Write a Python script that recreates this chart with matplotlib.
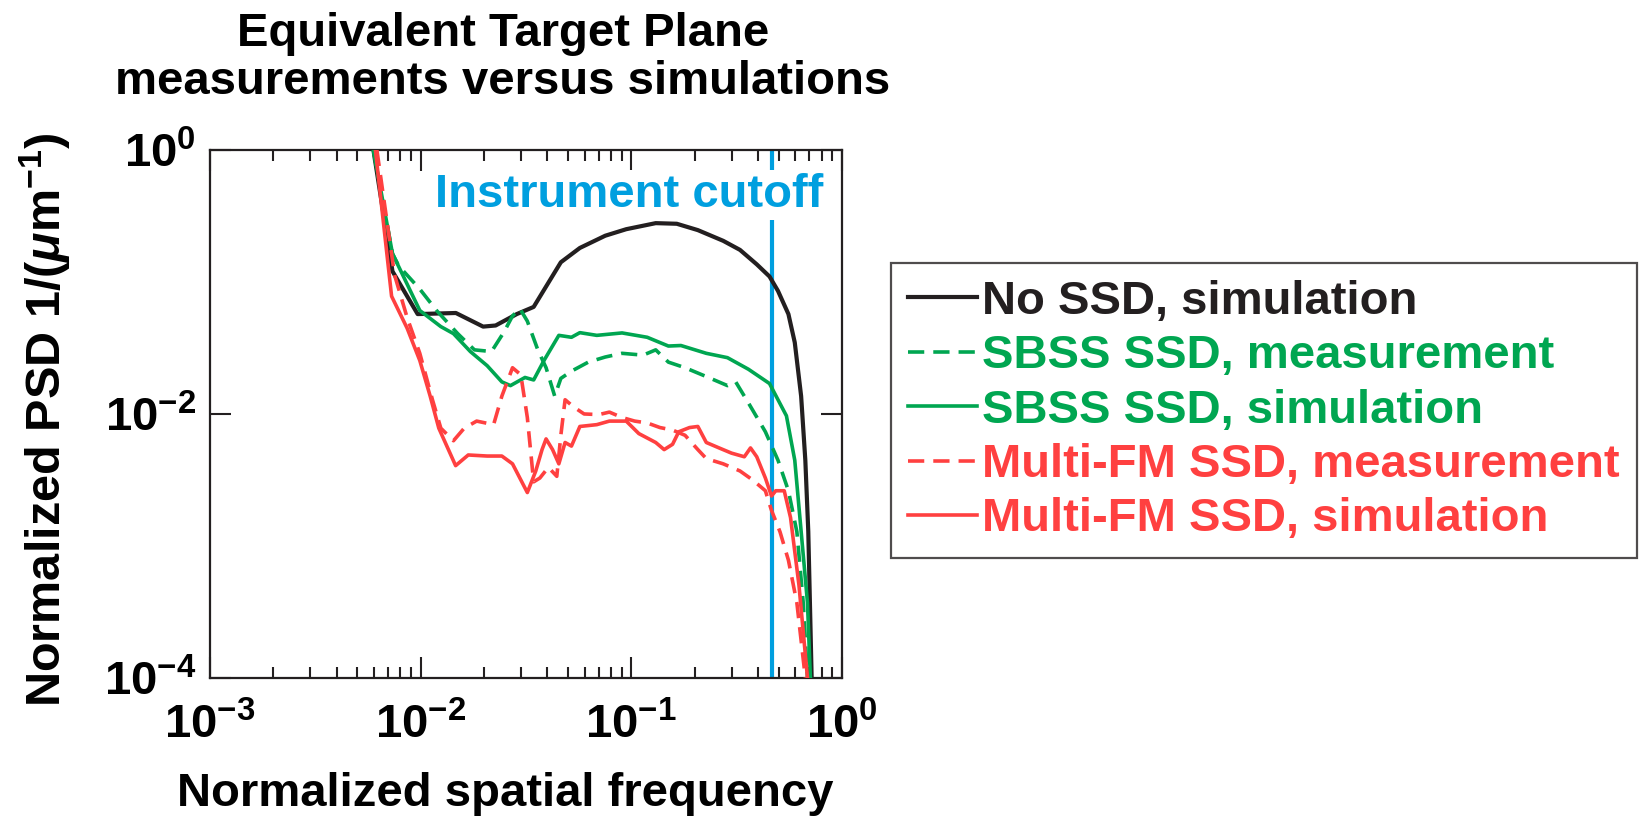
import numpy as np
import matplotlib
matplotlib.use("Agg")
import matplotlib.pyplot as plt
from matplotlib.ticker import NullLocator, LogLocator

plt.rcParams["font.family"] = ["Liberation Sans", "DejaVu Sans"]
plt.rcParams["font.weight"] = "bold"
plt.rcParams["mathtext.fontset"] = "custom"
plt.rcParams["mathtext.rm"] = "Liberation Sans:bold"
plt.rcParams["mathtext.bf"] = "Liberation Sans:bold"
plt.rcParams["mathtext.it"] = "Liberation Sans:bold:italic"

# values
nossd_sim_x = [0.00597, 0.00735, 0.00968, 0.0147, 0.0198, 0.0227, 0.0286, 0.0344, 0.0463, 0.057,
               0.0752, 0.0946, 0.1306, 0.1644, 0.207, 0.273, 0.328, 0.394, 0.453, 0.497, 0.557,
               0.597, 0.640, 0.670, 0.692, 0.718]
nossd_sim_y = [1.0, 0.1205, 0.0571, 0.0582, 0.0459, 0.0468, 0.0571, 0.0647, 0.141, 0.181,
               0.224, 0.251, 0.279, 0.276, 0.247, 0.205, 0.175, 0.136, 0.110, 0.0855, 0.0571,
               0.0348, 0.01365, 0.00447, 0.00129, 0.0001]

sbss_meas_x = [0.00597, 0.00735, 0.00787, 0.00991, 0.0119, 0.0150, 0.0180, 0.0217, 0.0249, 0.0273,
               0.0296, 0.0321, 0.0360, 0.0394, 0.0433, 0.0463, 0.0520, 0.0625, 0.0752, 0.0904,
               0.1138, 0.1306, 0.150, 0.180, 0.227, 0.286, 0.313, 0.360, 0.433, 0.497, 0.557,
               0.611, 0.655, 0.686]
sbss_meas_y = [1.0, 0.164, 0.1324, 0.0883, 0.0608, 0.0406, 0.0306, 0.0297, 0.0419, 0.0553,
               0.0627, 0.0505, 0.0306, 0.0224, 0.01365, 0.0186, 0.0211, 0.0247, 0.0270, 0.0288,
               0.0279, 0.0306, 0.0247, 0.0224, 0.0192, 0.0164, 0.0175, 0.0121, 0.00733, 0.00446,
               0.00262, 0.00128, 0.00037, 0.0001]

sbss_sim_x = [0.00597, 0.00735, 0.00991, 0.01247, 0.01432, 0.01722, 0.0207, 0.0243, 0.0267, 0.0313,
              0.0344, 0.0385, 0.0453, 0.0520, 0.0570, 0.0686, 0.0904, 0.119, 0.150, 0.172, 0.227,
              0.286, 0.360, 0.453, 0.545, 0.597, 0.640, 0.686, 0.708]
sbss_sim_y = [1.0, 0.164, 0.0608, 0.0459, 0.0406, 0.0297, 0.0232, 0.0175, 0.0164, 0.0189,
              0.0181, 0.0254, 0.0394, 0.0381, 0.0413, 0.0394, 0.0411, 0.0381, 0.0327, 0.0330,
              0.0288, 0.0267, 0.0218, 0.0170, 0.00968, 0.00446, 0.00129, 0.000372, 0.0001]

mfm_meas_x = [0.0062, 0.00752, 0.00863, 0.00991, 0.01138, 0.01247, 0.01432, 0.0161, 0.01845, 0.0222,
              0.0243, 0.0273, 0.0299, 0.0321, 0.0344, 0.0368, 0.0404, 0.0443, 0.0463, 0.0485,
              0.0532, 0.0597, 0.0702, 0.0787, 0.0904, 0.1038, 0.119, 0.1368, 0.157, 0.180, 0.207,
              0.227, 0.273, 0.328, 0.377, 0.433, 0.463, 0.508, 0.557, 0.611, 0.670]
mfm_meas_y = [1.0, 0.113, 0.0537, 0.0288, 0.01282, 0.0078, 0.00627, 0.0078, 0.00883, 0.0083,
              0.01365, 0.0224, 0.0198, 0.0094, 0.00306, 0.00327, 0.00394, 0.00337, 0.00689, 0.01282,
              0.01132, 0.0100, 0.00989, 0.01033, 0.0094, 0.00883, 0.00855, 0.00789, 0.00755, 0.00689,
              0.00537, 0.00459, 0.00419, 0.0037, 0.00316, 0.00262, 0.00186, 0.00128, 0.00078,
              0.00037, 0.0001]

mfm_sim_x = [0.0061, 0.00728, 0.00863, 0.00991, 0.0111, 0.0122, 0.01466, 0.01683, 0.0207, 0.0243,
             0.0273, 0.0321, 0.0352, 0.0377, 0.0394, 0.0423, 0.0453, 0.0485, 0.0520, 0.0570,
             0.0686, 0.0787, 0.0946, 0.1086, 0.1306, 0.1432, 0.157, 0.168, 0.189, 0.207, 0.227,
             0.261, 0.299, 0.344, 0.368, 0.394, 0.433, 0.463, 0.485, 0.532, 0.570, 0.625, 0.686]
mfm_sim_y = [1.0, 0.0780, 0.0446, 0.0254, 0.01365, 0.0078, 0.00406, 0.00489, 0.0048, 0.0048,
             0.00419, 0.00254, 0.0037, 0.00537, 0.00647, 0.00537, 0.00419, 0.00608, 0.00571,
             0.00804, 0.0083, 0.00883, 0.00883, 0.0071, 0.00608, 0.00537, 0.00589, 0.00733,
             0.00789, 0.00804, 0.00608, 0.00553, 0.00505, 0.00474, 0.00553, 0.00474, 0.00327,
             0.00239, 0.00262, 0.00262, 0.00164, 0.000505, 0.0001]

cutoff_x = 0.468

x_ticks = [1e-3, 1e-2, 1e-1, 1e0]
x_tick_labels = [r"$10^{-3}$", r"$10^{-2}$", r"$10^{-1}$", r"$10^{0}$"]
y_ticks = [1e-4, 1e-2, 1e0]
y_tick_labels = [r"$10^{-4}$", r"$10^{-2}$", r"$10^{0}$"]

BLACK = "#231f20"
GREEN = "#00a651"
RED = "#ff4040"
BLUE = "#009fdf"
FS = 34

fig = plt.figure(figsize=(16.48, 8.19), dpi=100)
ax = fig.add_axes([0.1274, 0.1722, 0.3835, 0.6447])

ax.axvline(cutoff_x, color=BLUE, lw=3, zorder=1)
ax.text(0.97, 0.915, "Instrument cutoff", transform=ax.transAxes, ha="right", va="center",
        color=BLUE, fontsize=FS, fontweight="bold", zorder=5,
        bbox=dict(facecolor="white", edgecolor="none", pad=2))

dash = (4.5, 2.5)
ax.plot(nossd_sim_x, nossd_sim_y, color=BLACK, lw=3, label="No SSD, simulation", zorder=3)
ax.plot(sbss_meas_x, sbss_meas_y, color=GREEN, lw=2.6, dashes=dash,
        label="SBSS SSD, measurement", zorder=3)
ax.plot(sbss_sim_x, sbss_sim_y, color=GREEN, lw=2.6, label="SBSS SSD, simulation", zorder=3)
ax.plot(mfm_meas_x, mfm_meas_y, color=RED, lw=2.6, dashes=dash,
        label="Multi-FM SSD, measurement", zorder=3)
ax.plot(mfm_sim_x, mfm_sim_y, color=RED, lw=2.6, label="Multi-FM SSD, simulation", zorder=3)

ax.set_xscale("log")
ax.set_yscale("log")
ax.set_xlim(1e-3, 1e0)
ax.set_ylim(1e-4, 1e0)
ax.set_xticks(x_ticks)
ax.set_xticklabels(x_tick_labels)
ax.set_yticks(y_ticks)
ax.set_yticklabels(y_tick_labels)
ax.xaxis.set_minor_locator(LogLocator(base=10, subs=np.arange(2, 10)))
ax.yaxis.set_minor_locator(NullLocator())
ax.tick_params(which="both", direction="in", top=True, right=True, width=1.5, color=BLACK,
               labelsize=FS)
ax.tick_params(which="major", length=15)
ax.tick_params(which="minor", length=8)
ax.tick_params(axis="x", pad=18)
ax.tick_params(axis="y", pad=10)
for s in ax.spines.values():
    s.set_linewidth(1.6)
    s.set_color(BLACK)

ax.set_xlabel("Normalized spatial frequency", fontsize=FS, fontweight="bold")
ax.xaxis.set_label_coords(0.467, -0.178)
ax.set_ylabel(r"Normalized PSD 1/($\mu$m$^{-1}$)", fontsize=35, fontweight="bold")
ax.yaxis.set_label_coords(-0.216, 0.49)

fig.text(0.305, 0.985, "Equivalent Target Plane\nmeasurements versus simulations",
         ha="center", va="top", fontsize=FS, fontweight="bold", linespacing=1.12)

leg = fig.legend(loc="upper left", bbox_to_anchor=(0.5407, 0.679), fontsize=FS,
                 handlelength=1.45, handletextpad=0.12, labelspacing=0.22, borderpad=0.36,
                 frameon=True, fancybox=False, edgecolor=BLACK, borderaxespad=0)
leg.get_frame().set_linewidth(1.6)
for t, c in zip(leg.get_texts(), [BLACK, GREEN, GREEN, RED, RED]):
    t.set_color(c)

fig.savefig("out.png", dpi=100)
